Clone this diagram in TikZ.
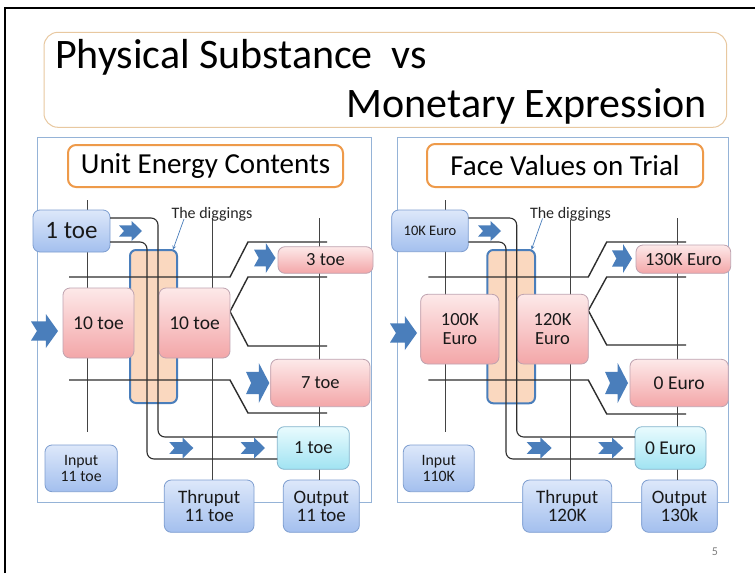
\documentclass[tikz,border=0pt]{standalone}
\usepackage{fontspec}
\setmainfont{Carlito}
\usetikzlibrary{calc}
\definecolor{bluetop}{HTML}{DDE8FA}
\definecolor{bluebot}{HTML}{A3BFEE}
\definecolor{bluebd}{HTML}{7E9ED0}
\definecolor{pinktop}{HTML}{FDE9E9}
\definecolor{pinkbot}{HTML}{F3A6A8}
\definecolor{pinkbd}{HTML}{BFA3B0}
\definecolor{cyantop}{HTML}{E9FBFE}
\definecolor{cyanbot}{HTML}{A0E3F2}
\definecolor{cyanbd}{HTML}{84B4CC}
\definecolor{chevc}{HTML}{4A7EBB}
\definecolor{digfill}{HTML}{FAD8BF}
\definecolor{digbd}{HTML}{4A7EBB}
\definecolor{panelbd}{HTML}{95B3D7}
\definecolor{headbd}{HTML}{EE9A4A}
\definecolor{titlebd}{HTML}{E8C8A0}
\definecolor{linec}{HTML}{2E2E2E}
\newcommand\bx[7]{\node[#1,minimum width={(#5-#3)*1pt},minimum height={(#6-#4)*1pt}] (#2) at ({(#3+#5)/2},{(#4+#6)/2}) {#7};}
\newcommand\chev[4]{%
 \fill[chevc] ({#1},{0.78*#3+0.22*#4}) -- ({0.45*#1+0.55*#2},{0.78*#3+0.22*#4}) -- ({0.45*#1+0.55*#2},{#3}) -- ({#2},{0.5*#3+0.5*#4}) -- ({0.45*#1+0.55*#2},{#4}) -- ({0.45*#1+0.55*#2},{0.22*#3+0.78*#4}) -- ({#1},{0.22*#3+0.78*#4}) -- ({0.78*#1+0.22*#2},{0.5*#3+0.5*#4}) -- cycle;}
\begin{document}
\begin{tikzpicture}[x=1pt,y=-1pt,
  every node/.style={inner sep=0pt,outer sep=0pt},
  bluebox/.style={draw=bluebd,line width=0.8pt,rounded corners=7pt,top color=bluetop,bottom color=bluebot,align=center,text=black!90},
  pinkbox/.style={draw=pinkbd,line width=0.8pt,rounded corners=7pt,top color=pinktop,bottom color=pinkbot,align=center,text=black!90},
  cyanbox/.style={draw=cyanbd,line width=0.8pt,rounded corners=7pt,top color=cyantop,bottom color=cyanbot,align=center,text=black!90},
  digbox/.style={draw=digbd,line width=2pt,rounded corners=6pt,fill=digfill},
  panelbox/.style={draw=panelbd,line width=0.9pt},
  headbox/.style={draw=headbd,line width=2pt,rounded corners=8pt,fill=white,font=\fontsize{29}{29}\selectfont},
  mainline/.style={draw=linec,line width=1.4pt},
  thinline/.style={draw=linec!90,line width=0.8pt},
  pipeline/.style={draw=linec,line width=1.1pt,rounded corners=7pt},
  diglabel/.style={font=\fontsize{16}{16}\selectfont,text=black!85},
  digarrow/.style={draw=chevc,line width=0.7pt,-stealth},
  fbig/.style={font=\fontsize{25}{25}\selectfont},
  fmid/.style={font=\fontsize{18.5}{18.5}\selectfont},
  ften/.style={font=\fontsize{19.5}{19.5}\selectfont},
  fio/.style={font=\fontsize{19}{18}\selectfont},
  fin/.style={font=\fontsize{15.8}{15.5}\selectfont},
  fsmall/.style={font=\fontsize{14.5}{14.5}\selectfont}
]
\useasboundingbox (0,0) rectangle (755,573);
\fill[white] (0,0) rectangle (755,573);
% frame
\draw[line width=2.2pt] (5,573) -- (5,8) -- (755,8);
% title
\bx{draw=titlebd,line width=1pt,rounded corners=14pt}{title}{44}{32.3}{726.7}{127.3}{}
\node[anchor=base west,font=\fontsize{42}{42}\selectfont] (t1txt) at (55,68.5) {Physical Substance\ \ vs};
\node[anchor=base east,font=\fontsize{42}{42}\selectfont] (t2txt) at (707,117) {Monetary Expression};
% panels
\bx{panelbox}{pL}{37}{137}{371}{502.7}{}
\bx{panelbox}{pR}{397}{137}{728}{502.7}{}
\bx{headbox}{hL}{68}{145}{343}{187}{Unit Energy Contents}
\bx{headbox}{hR}{427}{144}{703}{187}{Face Values on Trial}
% digging boxes
\bx{digbox}{dig1}{130}{250}{177}{403}{}
\bx{digbox}{dig2}{487.3}{250}{535}{403.3}{}
% ---------- left lines
\coordinate (inTopL) at (87.3,200);
\coordinate (inBotL) at (87.3,432);
\draw[thinline] (inTopL) -- (inBotL);
\coordinate (thTopL) at (212.7,218);
\coordinate (ouTopL) at (319.3,218);
\draw[mainline] (69,277) -- (230,277) -- (248,242) -- (327,242);
\draw[mainline] (69,380) -- (230,380) -- (248,413) -- (327,413);
\draw[mainline] (327,277) -- (248,277) -- (230,311.5) -- (248,346) -- (327,346);
% ---------- right lines
\coordinate (inTopR) at (445.7,200);
\coordinate (inBotR) at (445.7,432);
\draw[thinline] (inTopR) -- (inBotR);
\coordinate (thTopR) at (570.7,220);
\coordinate (ouTopR) at (677.7,218);
\draw[mainline] (428.3,277) -- (588.3,277) -- (606.7,242) -- (686,242);
\draw[mainline] (428.3,380) -- (588.3,380) -- (606.7,414) -- (686,414);
\draw[mainline] (686,277) -- (606.7,277) -- (588.3,310.5) -- (606.7,345) -- (686,345);
% ---------- bottom boxes
\bx{bluebox,fio}{thL}{164.3}{480}{254}{532.3}{Thruput\\11 toe}
\bx{bluebox,fio}{ouL}{283.3}{480}{359.3}{532.3}{Output\\11 toe}
\bx{bluebox,fio}{thR}{522.7}{480}{611.7}{532.3}{Thruput\\120K}
\bx{bluebox,fio}{ouR}{641.7}{480}{717.3}{532.3}{Output\\130k}
\draw[thinline] (thTopL) -- (thTopL |- thL.north);
\draw[thinline] (ouTopL) -- (ouTopL |- ouL.north);
\draw[thinline] (thTopR) -- (thTopR |- thR.north);
\draw[thinline] (ouTopR) -- (ouTopR |- ouR.north);
% ---------- left boxes
\bx{bluebox,fbig}{t1}{33}{210}{110}{252}{1 toe}
\bx{pinkbox,ften}{a10}{63}{288}{134}{358}{10 toe}
\bx{pinkbox,ften}{b10}{159}{288}{230}{358}{10 toe}
\bx{pinkbox,fmid}{o3}{278}{246.7}{373}{273.3}{3 toe}
\bx{pinkbox,fmid}{o7}{270.7}{359.3}{370}{406.7}{7 toe}
\bx{cyanbox,fmid}{c1}{277.3}{426.7}{349.3}{469.3}{1 toe}
\bx{bluebox,fin}{inL}{45}{445}{117.3}{491.7}{Input\\11 toe}
\draw[pipeline] ([yshift=13pt]t1.east) -- (158,218) -- (158,437) -- (c1.west |- 0,437);
\draw[pipeline] ([yshift=-11pt]t1.east) -- (147,242) -- (147,459) -- (c1.west |- 0,459);
% ---------- right boxes
\bx{bluebox,fsmall}{t2}{391.7}{210}{468.3}{251.7}{10K Euro}
\bx{pinkbox,fmid}{a100}{420.7}{294.3}{499}{364}{100K\\Euro}
\bx{pinkbox,fmid}{b120}{516.7}{294.3}{588.3}{364}{120K\\Euro}
\bx{pinkbox,fmid}{o130}{636}{245}{730.7}{273.3}{130K Euro}
\bx{pinkbox,ften}{o0p}{630}{359.3}{728.3}{406.7}{0 Euro}
\bx{cyanbox,ften}{c0}{635}{426.7}{706}{469.3}{0 Euro}
\bx{bluebox,fin}{inR}{403.3}{445}{474.3}{491.7}{Input\\110K}
\draw[pipeline] ([yshift=12.85pt]t2.east) -- (516.7,218) -- (516.7,437) -- (c0.west |- 0,437);
\draw[pipeline] ([yshift=-11.15pt]t2.east) -- (506,242) -- (506,459) -- (c0.west |- 0,459);
% chevrons left
\chev{119}{142}{221}{241}
\chev{31}{58}{314}{348}
\chev{254}{275.5}{243}{273}
\chev{246}{269.3}{363}{403}
\chev{169.3}{193.3}{437.5}{458.5}
\chev{240.7}{265}{437.5}{458.5}
% chevrons right
\chev{478}{501}{221}{241}
\chev{390}{417}{316}{350}
\chev{612}{632}{244}{273}
\chev{605}{628}{363}{403}
\chev{526.7}{551.7}{437.5}{458.5}
\chev{598.3}{623.3}{437.5}{458.5}
% digging labels
\node[diglabel] (dl1) at (212,214) {The diggings};
\node[diglabel] (dl2) at (570.5,214) {The diggings};
\draw[digarrow] ([xshift=-28pt,yshift=-5pt]dl1.center) -- ([xshift=-4pt,yshift=0.5pt]dig1.north east);
\draw[digarrow] ([xshift=-28pt,yshift=-4.5pt]dl2.center) -- ([xshift=-3.5pt,yshift=0.5pt]dig2.north east);
% page number
\node[font=\fontsize{12}{12}\selectfont,text=black!50] (pg) at (715,552) {5};
\end{tikzpicture}
\end{document}
